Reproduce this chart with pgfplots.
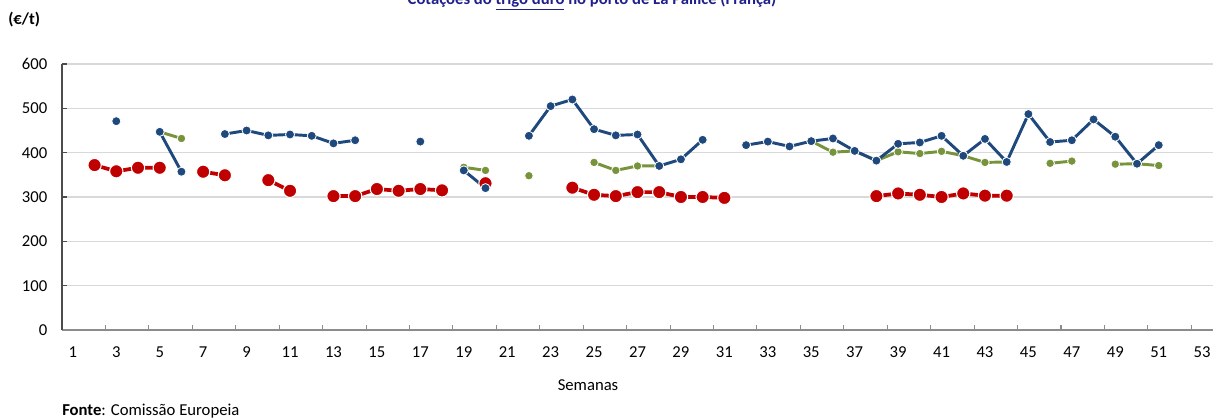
\documentclass[border=0pt]{standalone}
\usepackage{pgfplots}
\usepackage{pgfplotstable}
\pgfplotsset{compat=1.18}
\usepackage{fontspec}
\setmainfont{Carlito}
\definecolor{cblue}{RGB}{31,73,125}
\definecolor{cgreen}{RGB}{119,147,60}
\definecolor{cred}{RGB}{192,0,0}
\definecolor{ctitle}{RGB}{32,32,140}
\pgfplotstableread{
week blue green red
1 nan nan nan
2 nan nan 372
3 471 nan 358
4 nan nan 366
5 447 447 366
6 357 432 nan
7 nan nan 357
8 442 nan 349
9 450 nan nan
10 439 nan 338
11 441 nan 314
12 438 nan nan
13 421 nan 302
14 428 nan 302
15 nan nan 318
16 nan nan 314
17 425 nan 318
18 nan nan 315
19 360 367 nan
20 320 360 331
21 nan nan nan
22 438 348 nan
23 505 nan nan
24 520 nan 321
25 453 378 305
26 439 360 302
27 441 370 311
28 370 370 311
29 385 nan 300
30 429 nan 300
31 nan nan 298
32 417 nan nan
33 425 nan nan
34 414 nan nan
35 426 426 nan
36 432 401 nan
37 404 404 nan
38 382 382 302
39 420 402 308
40 423 398 305
41 438 403 300
42 393 393 308
43 431 378 303
44 379 379 303
45 487 nan nan
46 424 376 nan
47 428 381 nan
48 475 nan nan
49 436 374 nan
50 375 375 nan
51 417 371 nan
52 nan nan nan
53 nan nan nan
}\datatable
\begin{document}
\begin{tikzpicture}
\useasboundingbox (-46.5pt,-67.5pt) rectangle (865.5pt,247.5pt);
\begin{axis}[
  at={(0,0)}, anchor=south west,
  scale only axis, width=863.25pt, height=199.5pt,
  xmin=0.5, xmax=53.5, ymin=0, ymax=600,
  ytick={0,100,...,600},
  xtick={1,3,...,53},
  minor xtick={0.5,2.5,...,52.5},
  axis x line=bottom, axis y line=left,
  axis line style={-},
  x axis line style={draw=black!45, line width=0.8pt},
  y axis line style={draw=black!70, line width=0.8pt},
  tick align=inside,
  major x tick style={draw=none},
  minor x tick style={draw=black!45, line width=0.8pt},
  major y tick style={draw=black!70, line width=0.8pt},
  major tick length=4pt, minor tick length=4pt,
  ymajorgrids, grid style={draw=black!15, line width=0.8pt},
  unbounded coords=jump,
  tick label style={font=\fontsize{12.5}{14}\selectfont, text=black},
  xticklabel style={yshift=-9pt},
  yticklabel style={xshift=-7.5pt},
  /pgf/number format/assume math mode=true,
  clip=false,
]
\addplot[cred, line width=2.8pt, mark=*, mark size=5pt, mark options={fill=cred, draw=white, line width=0.8pt}] table[x=week, y=red] {\datatable};
\addplot[cgreen, line width=2.2pt, mark=*, mark size=3.2pt, mark options={fill=cgreen, draw=white, line width=0.6pt}] table[x=week, y=green] {\datatable};
\addplot[cblue, line width=2.2pt, mark=*, mark size=3.4pt, mark options={fill=cblue, draw=white, line width=0.6pt}] table[x=week, y=blue] {\datatable};
\end{axis}
\node[anchor=base, text=ctitle, font=\fontsize{12.5}{14}\selectfont\bfseries] at (397.5pt,243.75pt) {Cotações do \underline{trigo duro} no porto de La Pallice (França)};
\node[anchor=west, font=\fontsize{12.5}{14}\selectfont\bfseries, inner sep=0pt] at (-40.5pt,232.5pt) {(€/t)};
\node[font=\fontsize{12.5}{14}\selectfont, inner sep=0pt] at (394.5pt,-41.25pt) {Semanas};
\node[anchor=west, font=\fontsize{12.5}{14}\selectfont, inner sep=0pt] at (0pt,-60.75pt) {\textbf{Fonte}: Comissão Europeia};
\end{tikzpicture}
\end{document}
